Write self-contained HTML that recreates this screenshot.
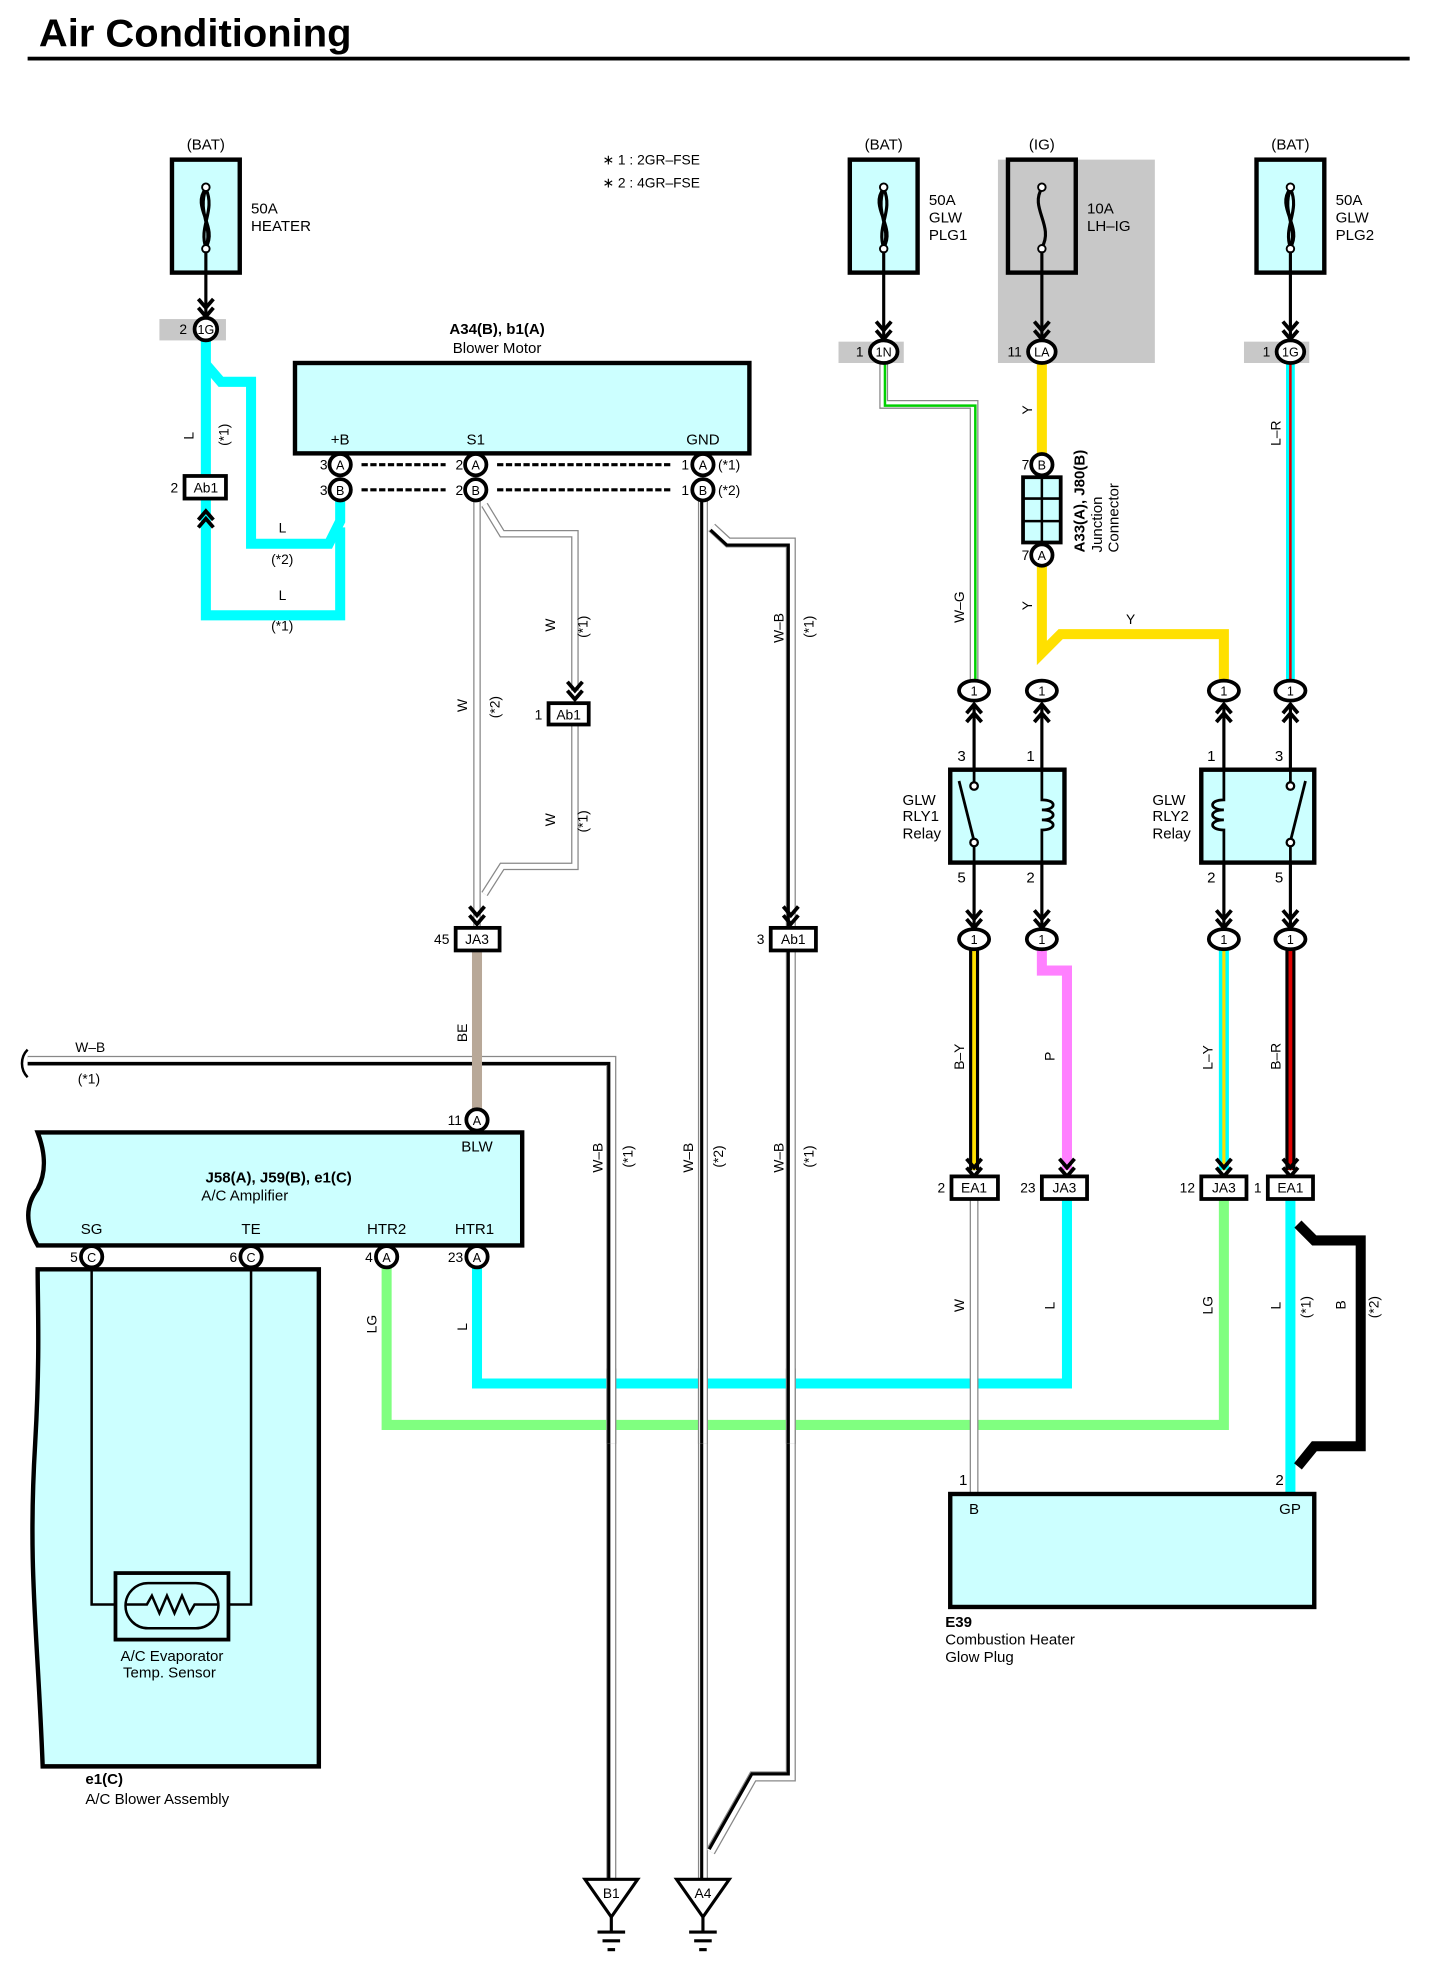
<!DOCTYPE html>
<html><head><meta charset="utf-8"><style>
html,body{margin:0;padding:0;background:#fff}
svg{display:block}
text{font-family:"Liberation Sans",sans-serif;fill:#000}
</style></head><body>
<svg width="1431" height="1980" viewBox="0 0 1140 1577" xmlns="http://www.w3.org/2000/svg">
<text x="31" y="37" font-size="31" font-weight="bold" textLength="249" lengthAdjust="spacingAndGlyphs">Air Conditioning</text>
<rect x="22" y="45" width="1101" height="3" fill="#000"/>

<!-- notes -->
<text x="480" y="131" font-size="11">∗ 1 : 2GR–FSE</text>
<text x="480" y="149" font-size="11">∗ 2 : 4GR–FSE</text>

<!-- grey backgrounds -->
<rect x="795" y="127" width="125" height="162" fill="#c8c8c8"/>
<rect x="127" y="254" width="53" height="17" fill="#c8c8c8"/>
<rect x="668" y="272" width="52" height="17" fill="#c8c8c8"/>
<rect x="991" y="272" width="52" height="17" fill="#c8c8c8"/>

<!-- fuses -->
<g font-size="12" text-anchor="middle">
<text x="164" y="119">(BAT)</text><text x="704" y="119">(BAT)</text><text x="830" y="119">(IG)</text><text x="1028" y="119">(BAT)</text>
</g>
<g stroke="#000" stroke-width="3.5">
<rect x="137" y="127" width="54" height="90" fill="#ccffff"/>
<rect x="677" y="127" width="54" height="90" fill="#ccffff"/>
<rect x="803" y="127" width="54" height="90" fill="#c8c8c8"/>
<rect x="1001" y="127" width="54" height="90" fill="#ccffff"/>
</g>
<g fill="none" stroke="#000" stroke-width="2.5">
<path d="M164,150 C152,165 174,180 164,197 M164,150 C157,170 170,180 164,197 M164,150 C172,168 158,180 164,197"/>
<path d="M704,150 C692,165 714,180 704,197 M704,150 C697,170 710,180 704,197 M704,150 C712,168 698,180 704,197"/>
<path d="M830,150 C820,165 840,180 830,197"/>
<path d="M1028,150 C1016,165 1038,180 1028,197 M1028,150 C1021,170 1034,180 1028,197 M1028,150 C1036,168 1022,180 1028,197"/>
</g>
<g fill="#fff" stroke="#000" stroke-width="1.5">
<circle cx="164" cy="149" r="3"/><circle cx="164" cy="198" r="3"/>
<circle cx="704" cy="149" r="3"/><circle cx="704" cy="198" r="3"/>
<circle cx="830" cy="149" r="3"/><circle cx="830" cy="198" r="3"/>
<circle cx="1028" cy="149" r="3"/><circle cx="1028" cy="198" r="3"/>
</g>
<g font-size="12">
<text x="200" y="170">50A</text><text x="200" y="184">HEATER</text>
<text x="740" y="163">50A</text><text x="740" y="177">GLW</text><text x="740" y="191">PLG1</text>
<text x="866" y="170">10A</text><text x="866" y="184">LH–IG</text>
<text x="1064" y="163">50A</text><text x="1064" y="177">GLW</text><text x="1064" y="191">PLG2</text>
</g>
<!-- fuse to connector wires -->
<g stroke="#000" stroke-width="2.5">
<line x1="164" y1="200" x2="164" y2="252"/><line x1="704" y1="200" x2="704" y2="270"/>
<line x1="830" y1="200" x2="830" y2="270"/><line x1="1028" y1="200" x2="1028" y2="270"/>
</g>
<g fill="none" stroke="#000" stroke-width="3">
<path d="M158,238 L164,245 L170,238 M158,245 L164,252 L170,245"/>
<path d="M698,256 L704,263 L710,256 M698,263 L704,270 L710,263"/>
<path d="M824,256 L830,263 L836,256 M824,263 L830,270 L836,263"/>
<path d="M1022,256 L1028,263 L1034,256 M1022,263 L1028,270 L1034,263"/>
</g>

<!-- cyan L wires left -->
<g fill="none" stroke="#00ffff" stroke-width="8" stroke-linejoin="miter">
<path d="M164,270 L164,380"/>
<path d="M164,290 L176,304 L200,304 L200,433 L262,433 L271,415 L271,392"/>
<path d="M164,398 L164,490 L271,490 L271,420"/>
</g>
<g font-size="11">
<text transform="translate(154,350) rotate(-90)">L</text>
<text transform="translate(182,355) rotate(-90)">(*1)</text>
<text x="222" y="424">L</text><text x="216" y="449">(*2)</text>
<text x="222" y="478">L</text><text x="216" y="502">(*1)</text>
</g>
<path d="M158,414 L164,407 L170,414 M158,420 L164,413 L170,420" fill="none" stroke="#000" stroke-width="3"/>

<!-- Blower motor -->
<text x="396" y="266" font-size="12" font-weight="bold" text-anchor="middle">A34(B), b1(A)</text>
<text x="396" y="281" font-size="12" text-anchor="middle">Blower Motor</text>
<rect x="235" y="289" width="362" height="72" fill="#ccffff" stroke="#000" stroke-width="3.5"/>
<g font-size="12" text-anchor="middle"><text x="271" y="354">+B</text><text x="379" y="354">S1</text><text x="560" y="354">GND</text></g>
<g stroke="#000" stroke-width="2.5" stroke-dasharray="5,2">
<line x1="288" y1="370" x2="355" y2="370"/><line x1="396" y1="370" x2="534" y2="370"/>
<line x1="288" y1="390" x2="355" y2="390"/><line x1="396" y1="390" x2="534" y2="390"/>
</g>

<!-- W wires from S1 -->
<g fill="none" stroke="#888" stroke-width="6">
<path d="M380,398 L380,740"/>
<path d="M386,402 L400,425 L458,425 L458,550"/>
<path d="M458,578 L458,690 L400,690 L386,712"/>
</g>
<g fill="none" stroke="#fff" stroke-width="4">
<path d="M380,398 L380,740"/>
<path d="M386,402 L400,425 L458,425 L458,550"/>
<path d="M458,578 L458,690 L400,690 L386,712"/>
</g>
<path d="M374,722 L380,729 L386,722 M374,729 L380,736 L386,729" fill="none" stroke="#000" stroke-width="3"/>
<path d="M452,543 L458,550 L464,543 M452,550 L458,557 L464,550" fill="none" stroke="#000" stroke-width="3"/>
<g font-size="11">
<text transform="translate(372,567) rotate(-90)">W</text><text transform="translate(398,572) rotate(-90)">(*2)</text>
<text transform="translate(442,503) rotate(-90)">W</text><text transform="translate(468,508) rotate(-90)">(*1)</text>
<text transform="translate(442,658) rotate(-90)">W</text><text transform="translate(468,663) rotate(-90)">(*1)</text>
</g>

<!-- W-B wires -->
<g fill="none" stroke="#888" stroke-width="8">
<path d="M22,845 L487,845 L487,1498"/>
<path d="M560,398 L560,1498"/>
<path d="M567,420 L580,432 L630,432 L630,740 M630,757 L630,1415 L600,1415 L566,1475"/>
</g>
<g fill="none" stroke="#fff" stroke-width="6">
<path d="M22,845 L487,845 L487,1498"/>
<path d="M560,398 L560,1498"/>
<path d="M567,420 L580,432 L630,432 L630,740 M630,757 L630,1415 L600,1415 L566,1475"/>
</g>
<g fill="none" stroke="#000" stroke-width="2.5">
<path d="M22,847 L485,847 L485,1498"/>
<path d="M559,398 L559,1498"/>
<path d="M566,422 L579,434 L628,434 L628,740 M628,757 L628,1413 L599,1413 L565,1473"/>
</g>
<path d="M22,836 C16,842 16,852 22,858" fill="none" stroke="#000" stroke-width="2"/>
<path d="M624,722 L630,729 L636,722 M624,729 L630,736 L636,729" fill="none" stroke="#000" stroke-width="3"/>
<g font-size="11">
<text x="60" y="838">W–B</text><text x="62" y="863">(*1)</text>
<text transform="translate(624,512) rotate(-90)">W–B</text><text transform="translate(648,508) rotate(-90)">(*1)</text>
<text transform="translate(480,934) rotate(-90)">W–B</text><text transform="translate(504,930) rotate(-90)">(*1)</text>
<text transform="translate(552,934) rotate(-90)">W–B</text><text transform="translate(576,930) rotate(-90)">(*2)</text>
<text transform="translate(624,934) rotate(-90)">W–B</text><text transform="translate(648,930) rotate(-90)">(*1)</text>
</g>

<!-- grounds -->
<g stroke="#000" stroke-width="2.5" fill="#fff">
<path d="M466,1497 L508,1497 L487,1527 Z"/>
<path d="M539,1497 L581,1497 L560,1527 Z"/>
</g>
<g stroke="#000" stroke-width="2.5">
<line x1="487" y1="1527" x2="487" y2="1538"/><line x1="476" y1="1539" x2="498" y2="1539"/><line x1="480" y1="1546" x2="494" y2="1546"/><line x1="484" y1="1553" x2="490" y2="1553"/>
<line x1="560" y1="1527" x2="560" y2="1538"/><line x1="549" y1="1539" x2="571" y2="1539"/><line x1="553" y1="1546" x2="567" y2="1546"/><line x1="557" y1="1553" x2="563" y2="1553"/>
</g>
<g font-size="11" text-anchor="middle"><text x="487" y="1512">B1</text><text x="560" y="1512">A4</text></g>

<!-- BE wire -->
<line x1="380" y1="757" x2="380" y2="884" stroke="#b8a898" stroke-width="8"/>
<text transform="translate(372,830) rotate(-90)" font-size="11">BE</text>

<!-- Amplifier -->
<path d="M30,902 L416,902 L416,992 L30,992 C20,975 20,960 30,947 C38,932 35,915 30,902 Z" fill="#ccffff" stroke="#000" stroke-width="3.5"/>
<text x="222" y="942" font-size="12" font-weight="bold" text-anchor="middle">J58(A), J59(B), e1(C)</text>
<text x="195" y="956" font-size="12" text-anchor="middle">A/C Amplifier</text>
<g font-size="12" text-anchor="middle"><text x="380" y="917">BLW</text><text x="73" y="983">SG</text><text x="200" y="983">TE</text><text x="308" y="983">HTR2</text><text x="378" y="983">HTR1</text></g>

<!-- blower assembly -->
<path d="M30,1011 L254,1011 L254,1407 L34,1407 C30,1300 22,1250 28,1150 C32,1080 30,1040 30,1011 Z" fill="#ccffff" stroke="#000" stroke-width="3.5"/>
<g fill="none" stroke="#000" stroke-width="2">
<path d="M73,1008 L73,1278 L200,1278 L200,1008"/>
</g>
<rect x="92" y="1253" width="90" height="53" fill="#ccffff" stroke="#000" stroke-width="3"/>
<rect x="100" y="1261" width="74" height="36" rx="18" fill="#ccffff" stroke="#000" stroke-width="2"/>
<path d="M100,1278 L117,1278 L121,1271 L127,1285 L133,1271 L139,1285 L145,1271 L151,1285 L155,1278 L174,1278" fill="none" stroke="#000" stroke-width="2"/>
<g font-size="12" text-anchor="middle"><text x="137" y="1323">A/C Evaporator</text><text x="135" y="1336">Temp.  Sensor</text></g>
<text x="68" y="1421" font-size="12" font-weight="bold">e1(C)</text>
<text x="68" y="1437" font-size="12">A/C Blower Assembly</text>

<!-- LG & L lower wires -->
<g fill="none" stroke-width="8">
<path d="M308,1008 L308,1135 L975,1135 L975,955" stroke="#80ff80"/>
<path d="M380,1008 L380,1102 L850,1102 L850,955" stroke="#00ffff"/>
</g>
<g stroke="#888" stroke-width="8"><line x1="487" y1="1090" x2="487" y2="1150"/><line x1="560" y1="1090" x2="560" y2="1150"/><line x1="630" y1="1090" x2="630" y2="1150"/></g>
<g stroke="#fff" stroke-width="6"><line x1="487" y1="1090" x2="487" y2="1150"/><line x1="560" y1="1090" x2="560" y2="1150"/><line x1="630" y1="1090" x2="630" y2="1150"/></g>
<g stroke="#000" stroke-width="2.5"><line x1="485" y1="1090" x2="485" y2="1150"/><line x1="559" y1="1090" x2="559" y2="1150"/><line x1="628" y1="1090" x2="628" y2="1150"/></g>
<g font-size="11">
<text transform="translate(300,1062) rotate(-90)">LG</text>
<text transform="translate(372,1060) rotate(-90)">L</text>
</g>

<!-- right-side wires -->
<path d="M704,289 L704,322 L776,322 L776,542" fill="none" stroke="#888" stroke-width="7"/>
<path d="M704,289 L704,322 L776,322 L776,542" fill="none" stroke="#fff" stroke-width="5"/>
<path d="M705,289 L705,323 L777,323 L777,542" fill="none" stroke="#00d000" stroke-width="2"/>
<text transform="translate(768,496) rotate(-90)" font-size="11">W–G</text>
<path d="M830,289 L830,362 M830,450 L830,520 L845,505 L975,505 L975,542" fill="none" stroke="#ffe000" stroke-width="8"/>
<g font-size="11"><text transform="translate(822,330) rotate(-90)">Y</text><text transform="translate(822,486) rotate(-90)">Y</text><text x="897" y="497">Y</text></g>
<rect x="815" y="380" width="30" height="52" fill="#ccffff" stroke="#000" stroke-width="3"/>
<g stroke="#000" stroke-width="2"><line x1="830" y1="380" x2="830" y2="432"/><line x1="815" y1="397" x2="845" y2="397"/><line x1="815" y1="415" x2="845" y2="415"/></g>
<g font-size="12">
<text transform="translate(864,440) rotate(-90)" font-weight="bold">A33(A), J80(B)</text>
<text transform="translate(878,440) rotate(-90)">Junction</text>
<text transform="translate(891,440) rotate(-90)">Connector</text>
</g>
<line x1="1028" y1="289" x2="1028" y2="542" stroke="#00ffff" stroke-width="7"/>
<line x1="1028" y1="289" x2="1028" y2="542" stroke="#e00000" stroke-width="2"/>
<text transform="translate(1020,355) rotate(-90)" font-size="11">L–R</text>

<!-- relay wires -->
<g stroke="#000" stroke-width="2.5">
<line x1="776" y1="560" x2="776" y2="740"/><line x1="830" y1="560" x2="830" y2="740"/>
<line x1="975" y1="560" x2="975" y2="740"/><line x1="1028" y1="560" x2="1028" y2="740"/>
</g>
<g fill="none" stroke="#000" stroke-width="3">
<path d="M770,575 L776,568 L782,575 M770,568 L776,561 L782,568"/>
<path d="M824,575 L830,568 L836,575 M824,568 L830,561 L836,568"/>
<path d="M969,575 L975,568 L981,575 M969,568 L975,561 L981,568"/>
<path d="M1022,575 L1028,568 L1034,575 M1022,568 L1028,561 L1034,568"/>
<path d="M770,725 L776,732 L782,725 M770,732 L776,739 L782,732"/>
<path d="M824,725 L830,732 L836,725 M824,732 L830,739 L836,732"/>
<path d="M969,725 L975,732 L981,725 M969,732 L975,739 L981,732"/>
<path d="M1022,725 L1028,732 L1034,725 M1022,732 L1028,739 L1034,732"/>
</g>
<rect x="757" y="613" width="91" height="74" fill="#ccffff" stroke="#000" stroke-width="3.5"/>
<rect x="957" y="613" width="90" height="74" fill="#ccffff" stroke="#000" stroke-width="3.5"/>
<g stroke="#000" stroke-width="2.2" fill="none">
<line x1="776" y1="613" x2="776" y2="627"/><line x1="776" y1="673" x2="776" y2="687"/>
<line x1="764" y1="622" x2="776" y2="670"/>
<path d="M830,613 L830,637 C842,637 842,645 830,645 C842,645 842,653 830,653 C842,653 842,661 830,661 L830,687"/>
<line x1="1028" y1="613" x2="1028" y2="627"/><line x1="1028" y1="673" x2="1028" y2="687"/>
<line x1="1040" y1="622" x2="1028" y2="670"/>
<path d="M975,613 L975,637 C963,637 963,645 975,645 C963,645 963,653 975,653 C963,653 963,661 975,661 L975,687"/>
</g>
<g fill="#fff" stroke="#000" stroke-width="1.8">
<circle cx="776" cy="626" r="3"/><circle cx="776" cy="671" r="3"/>
<circle cx="1028" cy="626" r="3"/><circle cx="1028" cy="671" r="3"/>
</g>
<g font-size="12">
<text x="766" y="606" text-anchor="middle">3</text><text x="821" y="606" text-anchor="middle">1</text>
<text x="766" y="703" text-anchor="middle">5</text><text x="821" y="703" text-anchor="middle">2</text>
<text x="965" y="606" text-anchor="middle">1</text><text x="1019" y="606" text-anchor="middle">3</text>
<text x="965" y="703" text-anchor="middle">2</text><text x="1019" y="703" text-anchor="middle">5</text>
<text x="719" y="641">GLW</text><text x="719" y="654">RLY1</text><text x="719" y="668">Relay</text>
<text x="918" y="641">GLW</text><text x="918" y="654">RLY2</text><text x="918" y="668">Relay</text>
</g>

<!-- lower colored wires -->
<line x1="776" y1="756" x2="776" y2="932" stroke="#000" stroke-width="8"/>
<line x1="776" y1="756" x2="776" y2="932" stroke="#ffe000" stroke-width="3"/>
<path d="M830,756 L830,773 L850,773 L850,932" fill="none" stroke="#ff80ff" stroke-width="8"/>
<line x1="975" y1="756" x2="975" y2="932" stroke="#00ffff" stroke-width="8"/>
<line x1="975" y1="756" x2="975" y2="932" stroke="#ffe000" stroke-width="2.5"/>
<line x1="1028" y1="756" x2="1028" y2="932" stroke="#000" stroke-width="8"/>
<line x1="1028" y1="756" x2="1028" y2="932" stroke="#e00000" stroke-width="3"/>
<g fill="none" stroke="#000" stroke-width="3">
<path d="M770,923 L776,930 L782,923 M770,930 L776,937 L782,930"/>
<path d="M844,923 L850,930 L856,923 M844,930 L850,937 L856,930"/>
<path d="M969,923 L975,930 L981,923 M969,930 L975,937 L981,930"/>
<path d="M1022,923 L1028,930 L1034,923 M1022,930 L1028,937 L1034,930"/>
</g>
<g font-size="11">
<text transform="translate(768,852) rotate(-90)">B–Y</text>
<text transform="translate(840,845) rotate(-90)">P</text>
<text transform="translate(966,852) rotate(-90)">L–Y</text>
<text transform="translate(1020,852) rotate(-90)">B–R</text>
</g>

<line x1="776" y1="955" x2="776" y2="1190" stroke="#888" stroke-width="7"/>
<line x1="776" y1="955" x2="776" y2="1190" stroke="#fff" stroke-width="5"/>
<line x1="1028" y1="955" x2="1028" y2="1190" stroke="#00ffff" stroke-width="8"/>
<path d="M1034,975 L1047,988 L1084,988 L1084,1152 L1047,1152 L1034,1168" fill="none" stroke="#000" stroke-width="8"/>
<g font-size="11">
<text transform="translate(768,1045) rotate(-90)">W</text>
<text transform="translate(840,1043) rotate(-90)">L</text>
<text transform="translate(966,1047) rotate(-90)">LG</text>
<text transform="translate(1020,1043) rotate(-90)">L</text>
<text transform="translate(1044,1050) rotate(-90)">(*1)</text>
<text transform="translate(1072,1043) rotate(-90)">B</text>
<text transform="translate(1098,1050) rotate(-90)">(*2)</text>
</g>

<rect x="757" y="1190" width="290" height="90" fill="#ccffff" stroke="#000" stroke-width="3.5"/>
<g font-size="12"><text x="772" y="1206">B</text><text x="1019" y="1206">GP</text>
<text x="764" y="1183">1</text><text x="1016" y="1183">2</text>
<text x="753" y="1296" font-weight="bold">E39</text><text x="753" y="1310">Combustion Heater</text><text x="753" y="1324">Glow Plug</text></g>

<g stroke="#000" stroke-width="3" fill="#fff">
<circle cx="164" cy="262" r="9"/>
<circle cx="271" cy="370" r="8.5"/><circle cx="379" cy="370" r="8.5"/><circle cx="560" cy="370" r="8.5"/>
<circle cx="271" cy="390" r="8.5"/><circle cx="379" cy="390" r="8.5"/><circle cx="560" cy="390" r="8.5"/>
<circle cx="380" cy="892" r="8.5"/>
<circle cx="73" cy="1001" r="8.5"/><circle cx="200" cy="1001" r="8.5"/><circle cx="308" cy="1001" r="8.5"/><circle cx="380" cy="1001" r="8.5"/>
<circle cx="830" cy="370" r="8.5"/><circle cx="830" cy="442" r="8.5"/>
<ellipse cx="704" cy="280" rx="11" ry="9"/><ellipse cx="830" cy="280" rx="11" ry="9"/><ellipse cx="1028" cy="280" rx="11" ry="9"/>
<ellipse cx="776" cy="550" rx="12" ry="8"/><ellipse cx="830" cy="550" rx="12" ry="8"/><ellipse cx="975" cy="550" rx="12" ry="8"/><ellipse cx="1028" cy="550" rx="12" ry="8"/>
<ellipse cx="776" cy="748" rx="12" ry="8"/><ellipse cx="830" cy="748" rx="12" ry="8"/><ellipse cx="975" cy="748" rx="12" ry="8"/><ellipse cx="1028" cy="748" rx="12" ry="8"/>
</g>
<g font-size="10" text-anchor="middle">
<text x="164" y="266">1G</text><text x="704" y="284">1N</text><text x="830" y="284">LA</text><text x="1028" y="284">1G</text>
<text x="271" y="374">A</text><text x="379" y="374">A</text><text x="560" y="374">A</text>
<text x="271" y="394">B</text><text x="379" y="394">B</text><text x="560" y="394">B</text>
<text x="380" y="896">A</text>
<text x="73" y="1005">C</text><text x="200" y="1005">C</text><text x="308" y="1005">A</text><text x="380" y="1005">A</text>
<text x="830" y="374">B</text><text x="830" y="446">A</text>
<text x="776" y="554">1</text><text x="830" y="554">1</text><text x="975" y="554">1</text><text x="1028" y="554">1</text>
<text x="776" y="752">1</text><text x="830" y="752">1</text><text x="975" y="752">1</text><text x="1028" y="752">1</text>
</g>
<g font-size="11" text-anchor="end">
<text x="149" y="266">2</text><text x="688" y="284">1</text><text x="814" y="284">11</text><text x="1012" y="284">1</text>
<text x="261" y="374">3</text><text x="369" y="374">2</text><text x="549" y="374">1</text>
<text x="261" y="394">3</text><text x="369" y="394">2</text><text x="549" y="394">1</text>
<text x="368" y="896">11</text>
<text x="62" y="1005">5</text><text x="189" y="1005">6</text><text x="297" y="1005">4</text><text x="369" y="1005">23</text>
<text x="820" y="374">7</text><text x="820" y="446">7</text>
</g>
<g font-size="11"><text x="572" y="374">(*1)</text><text x="572" y="394">(*2)</text></g>

<g stroke="#000" stroke-width="3" fill="#fff">
<rect x="147" y="379" width="33" height="18"/>
<rect x="437" y="560" width="32" height="17"/>
<rect x="363" y="739" width="35" height="18"/>
<rect x="614" y="739" width="36" height="18"/>
<rect x="758" y="937" width="37" height="18"/>
<rect x="830" y="937" width="36" height="18"/>
<rect x="957" y="937" width="36" height="18"/>
<rect x="1010" y="937" width="36" height="18"/>
</g>
<g font-size="11" text-anchor="middle">
<text x="164" y="392">Ab1</text><text x="453" y="573">Ab1</text><text x="380" y="752">JA3</text><text x="632" y="752">Ab1</text>
<text x="776" y="950">EA1</text><text x="848" y="950">JA3</text><text x="975" y="950">JA3</text><text x="1028" y="950">EA1</text>
</g>
<g font-size="11" text-anchor="end">
<text x="142" y="392">2</text><text x="432" y="573">1</text><text x="358" y="752">45</text><text x="609" y="752">3</text>
<text x="753" y="950">2</text><text x="825" y="950">23</text><text x="952" y="950">12</text><text x="1005" y="950">1</text>
</g>
</svg>
</body></html>
